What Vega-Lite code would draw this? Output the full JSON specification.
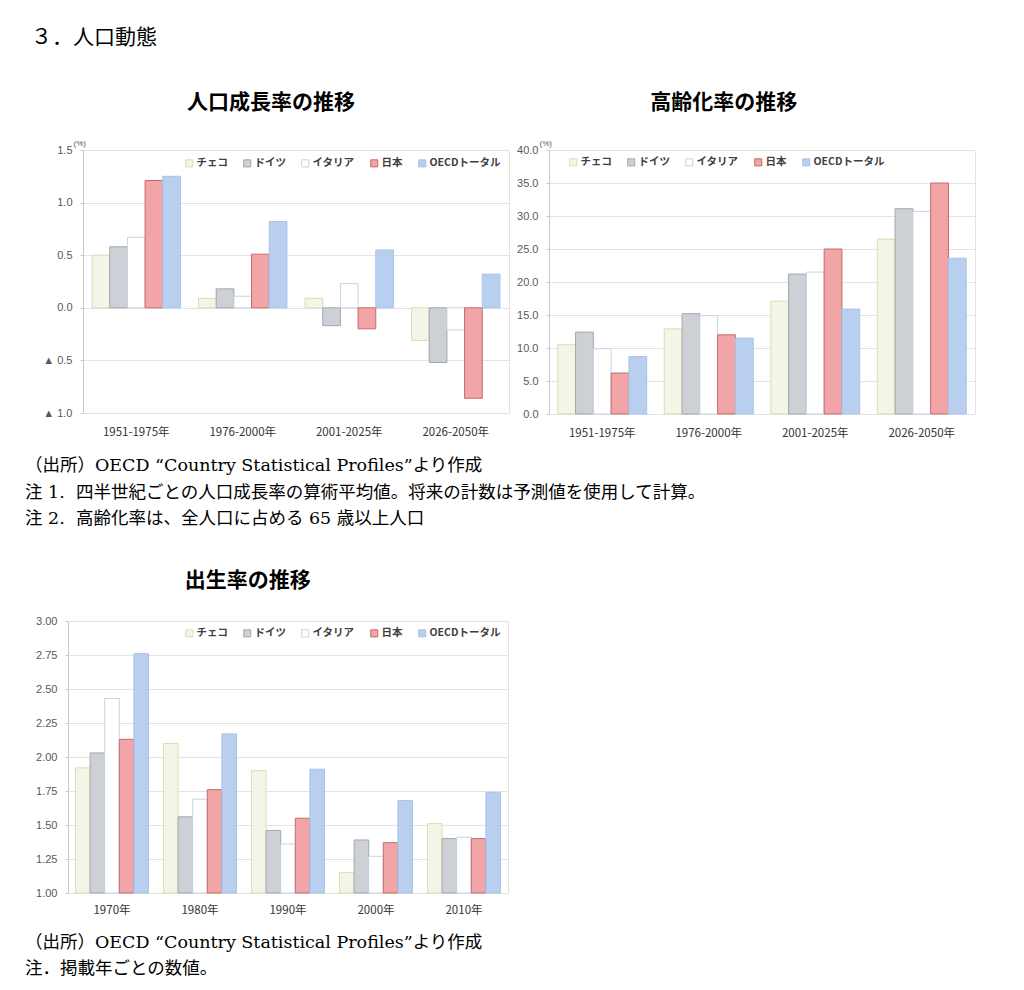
{
  "$schema": "https://vega.github.io/schema/vega-lite/v6.json",
  "padding": {"left": 21, "top": 26, "right": 5, "bottom": 5},
  "background": "white",
  "title": {"text": "３．人口動態", "anchor": "start", "frame": "bounds", "dx": 10, "fontSize": 21, "font": "Noto Sans CJK JP", "fontWeight": "normal", "color": "#000000", "offset": 44},
  "datasets": {
    "growth": [
      {"period": "1951-1975年", "country": "チェコ", "value": 0.50},
      {"period": "1951-1975年", "country": "ドイツ", "value": 0.58},
      {"period": "1951-1975年", "country": "イタリア", "value": 0.67},
      {"period": "1951-1975年", "country": "日本", "value": 1.21},
      {"period": "1951-1975年", "country": "OECDトータル", "value": 1.25},
      {"period": "1976-2000年", "country": "チェコ", "value": 0.09},
      {"period": "1976-2000年", "country": "ドイツ", "value": 0.18},
      {"period": "1976-2000年", "country": "イタリア", "value": 0.11},
      {"period": "1976-2000年", "country": "日本", "value": 0.51},
      {"period": "1976-2000年", "country": "OECDトータル", "value": 0.82},
      {"period": "2001-2025年", "country": "チェコ", "value": 0.09},
      {"period": "2001-2025年", "country": "ドイツ", "value": -0.17},
      {"period": "2001-2025年", "country": "イタリア", "value": 0.23},
      {"period": "2001-2025年", "country": "日本", "value": -0.20},
      {"period": "2001-2025年", "country": "OECDトータル", "value": 0.55},
      {"period": "2026-2050年", "country": "チェコ", "value": -0.31},
      {"period": "2026-2050年", "country": "ドイツ", "value": -0.52},
      {"period": "2026-2050年", "country": "イタリア", "value": -0.21},
      {"period": "2026-2050年", "country": "日本", "value": -0.86},
      {"period": "2026-2050年", "country": "OECDトータル", "value": 0.32}
    ],
    "aging": [
      {"period": "1951-1975年", "country": "チェコ", "value": 10.5},
      {"period": "1951-1975年", "country": "ドイツ", "value": 12.4},
      {"period": "1951-1975年", "country": "イタリア", "value": 9.9},
      {"period": "1951-1975年", "country": "日本", "value": 6.2},
      {"period": "1951-1975年", "country": "OECDトータル", "value": 8.7},
      {"period": "1976-2000年", "country": "チェコ", "value": 12.9},
      {"period": "1976-2000年", "country": "ドイツ", "value": 15.2},
      {"period": "1976-2000年", "country": "イタリア", "value": 14.9},
      {"period": "1976-2000年", "country": "日本", "value": 12.0},
      {"period": "1976-2000年", "country": "OECDトータル", "value": 11.5},
      {"period": "2001-2025年", "country": "チェコ", "value": 17.1},
      {"period": "2001-2025年", "country": "ドイツ", "value": 21.2},
      {"period": "2001-2025年", "country": "イタリア", "value": 21.5},
      {"period": "2001-2025年", "country": "日本", "value": 25.0},
      {"period": "2001-2025年", "country": "OECDトータル", "value": 15.9},
      {"period": "2026-2050年", "country": "チェコ", "value": 26.5},
      {"period": "2026-2050年", "country": "ドイツ", "value": 31.1},
      {"period": "2026-2050年", "country": "イタリア", "value": 30.7},
      {"period": "2026-2050年", "country": "日本", "value": 35.0},
      {"period": "2026-2050年", "country": "OECDトータル", "value": 23.6}
    ],
    "birth": [
      {"period": "1970年", "country": "チェコ", "value": 1.92},
      {"period": "1970年", "country": "ドイツ", "value": 2.03},
      {"period": "1970年", "country": "イタリア", "value": 2.43},
      {"period": "1970年", "country": "日本", "value": 2.13},
      {"period": "1970年", "country": "OECDトータル", "value": 2.76},
      {"period": "1980年", "country": "チェコ", "value": 2.10},
      {"period": "1980年", "country": "ドイツ", "value": 1.56},
      {"period": "1980年", "country": "イタリア", "value": 1.69},
      {"period": "1980年", "country": "日本", "value": 1.76},
      {"period": "1980年", "country": "OECDトータル", "value": 2.17},
      {"period": "1990年", "country": "チェコ", "value": 1.90},
      {"period": "1990年", "country": "ドイツ", "value": 1.46},
      {"period": "1990年", "country": "イタリア", "value": 1.36},
      {"period": "1990年", "country": "日本", "value": 1.55},
      {"period": "1990年", "country": "OECDトータル", "value": 1.91},
      {"period": "2000年", "country": "チェコ", "value": 1.15},
      {"period": "2000年", "country": "ドイツ", "value": 1.39},
      {"period": "2000年", "country": "イタリア", "value": 1.27},
      {"period": "2000年", "country": "日本", "value": 1.37},
      {"period": "2000年", "country": "OECDトータル", "value": 1.68},
      {"period": "2010年", "country": "チェコ", "value": 1.51},
      {"period": "2010年", "country": "ドイツ", "value": 1.40},
      {"period": "2010年", "country": "イタリア", "value": 1.41},
      {"period": "2010年", "country": "日本", "value": 1.40},
      {"period": "2010年", "country": "OECDトータル", "value": 1.74}
    ],
    "blank": [{"k": 0}]
  },
  "spacing": 12,
  "resolve": {"scale": {"fill": "independent", "stroke": "independent", "xOffset": "independent"}, "legend": {"fill": "independent", "stroke": "independent"}},
  "vconcat": [
    {
      "spacing": 6,
      "resolve": {"scale": {"fill": "independent", "stroke": "independent", "xOffset": "independent"}, "legend": {"fill": "independent", "stroke": "independent"}},
      "hconcat": [
        {
          "width": 15, "height": 1,
          "view": {"stroke": null},
          "data": {"name": "blank"},
          "mark": {"type": "rect", "opacity": 0},
          "encoding": {}
        },
        {
          "width": 426, "height": 263,
          "view": {"stroke": "#e2e2e2"},
          "title": {"text": "人口成長率の推移", "frame": "bounds", "fontSize": 21, "font": "Noto Sans CJK JP", "fontWeight": "bold", "color": "#000000", "offset": 26, "dx": -5},
          "data": {"name": "growth"},
          "mark": {"type": "bar", "strokeWidth": 1},
          "encoding": {
            "x": {"field": "period", "type": "nominal", "sort": null, "title": null,
                  "scale": {"paddingInner": 0.17, "paddingOuter": 0.085},
                  "axis": {"labelAngle": 0, "labelPadding": 13}},
            "xOffset": {"field": "country", "type": "nominal", "sort": ["チェコ", "ドイツ", "イタリア", "日本", "OECDトータル"], "scale": {"paddingInner": 0, "paddingOuter": 0}},
            "y": {"field": "value", "type": "quantitative", "title": "(%)",
                  "scale": {"domain": [-1, 1.5], "nice": false},
                  "axis": {"values": [-1, -0.5, 0, 0.5, 1, 1.5], "labelExpr": "datum.value < 0 ? '▲ ' + format(-datum.value, '.1f') : format(datum.value, '.1f')"}},
            "fill": {"field": "country", "type": "nominal",
                     "scale": {"domain": ["チェコ", "ドイツ", "イタリア", "日本", "OECDトータル"], "range": ["#f3f6e6", "#cdd0d5", "#ffffff", "#f2a5a6", "#b9cff0"]},
                     "legend": {"orient": "top-right", "offset": 8}},
            "stroke": {"field": "country", "type": "nominal",
                       "scale": {"domain": ["チェコ", "ドイツ", "イタリア", "日本", "OECDトータル"], "range": ["#d6dfb4", "#a3a7ad", "#c5d3e8", "#c9686a", "#a9c3ea"]},
                       "legend": {"orient": "top-right", "offset": 8}}
          }
        },
        {
          "width": 426, "height": 264,
          "view": {"stroke": "#e2e2e2"},
          "title": {"text": "高齢化率の推移", "frame": "bounds", "fontSize": 21, "font": "Noto Sans CJK JP", "fontWeight": "bold", "color": "#000000", "offset": 26, "dx": -22},
          "data": {"name": "aging"},
          "mark": {"type": "bar", "strokeWidth": 1},
          "encoding": {
            "x": {"field": "period", "type": "nominal", "sort": null, "title": null,
                  "scale": {"paddingInner": 0.165, "paddingOuter": 0.0825},
                  "axis": {"labelAngle": 0, "labelPadding": 13}},
            "xOffset": {"field": "country", "type": "nominal", "sort": ["チェコ", "ドイツ", "イタリア", "日本", "OECDトータル"], "scale": {"paddingInner": 0, "paddingOuter": 0}},
            "y": {"field": "value", "type": "quantitative", "title": "(%)",
                  "scale": {"domain": [0, 40], "nice": false},
                  "axis": {"values": [0, 5, 10, 15, 20, 25, 30, 35, 40], "format": ".1f"}},
            "fill": {"field": "country", "type": "nominal",
                     "scale": {"domain": ["チェコ", "ドイツ", "イタリア", "日本", "OECDトータル"], "range": ["#f3f6e6", "#cdd0d5", "#ffffff", "#f2a5a6", "#b9cff0"]},
                     "legend": {"orient": "none", "legendX": 19, "legendY": 7}},
            "stroke": {"field": "country", "type": "nominal",
                       "scale": {"domain": ["チェコ", "ドイツ", "イタリア", "日本", "OECDトータル"], "range": ["#d6dfb4", "#a3a7ad", "#c5d3e8", "#c9686a", "#a9c3ea"]},
                       "legend": {"orient": "none", "legendX": 19, "legendY": 7}}
          }
        }
      ]
    },
    {
      "width": 1, "height": 106,
      "view": {"stroke": null},
      "data": {"values": [
        {"i": 0, "t": "（出所）OECD “Country Statistical Profiles”より作成"},
        {"i": 1, "t": "注 1.\u00a0\u00a0四半世紀ごとの人口成長率の算術平均値。将来の計数は予測値を使用して計算。"},
        {"i": 2, "t": "注 2.\u00a0\u00a0高齢化率は、全人口に占める 65 歳以上人口"}
      ]},
      "mark": {"type": "text", "align": "left", "baseline": "middle", "dx": 3.5, "font": "DejaVu Serif, Noto Sans CJK JP", "fontSize": 17.5, "color": "#000000"},
      "encoding": {
        "y": {"field": "i", "type": "ordinal", "axis": null, "scale": {"padding": 1, "align": 0.29}},
        "text": {"field": "t"}
      }
    },
    {
      "spacing": 6,
      "resolve": {"scale": {"fill": "independent", "stroke": "independent", "xOffset": "independent"}, "legend": {"fill": "independent", "stroke": "independent"}},
      "hconcat": [
        {
          "width": 8, "height": 1,
          "view": {"stroke": null},
          "data": {"name": "blank"},
          "mark": {"type": "rect", "opacity": 0},
          "encoding": {}
        },
        {
          "width": 440, "height": 272,
          "view": {"stroke": "#e2e2e2"},
          "title": {"text": "出生率の推移", "frame": "bounds", "fontSize": 21, "font": "Noto Sans CJK JP", "fontWeight": "bold", "color": "#000000", "offset": 24, "dx": -24},
          "data": {"name": "birth"},
          "mark": {"type": "bar", "strokeWidth": 1},
          "encoding": {
            "x": {"field": "period", "type": "nominal", "sort": null, "title": null,
                  "scale": {"paddingInner": 0.17, "paddingOuter": 0.085},
                  "axis": {"labelAngle": 0, "labelPadding": 11}},
            "xOffset": {"field": "country", "type": "nominal", "sort": ["チェコ", "ドイツ", "イタリア", "日本", "OECDトータル"], "scale": {"paddingInner": 0, "paddingOuter": 0}},
            "y": {"field": "value", "type": "quantitative", "title": null,
                  "scale": {"domain": [1, 3], "nice": false, "zero": false},
                  "axis": {"values": [1, 1.25, 1.5, 1.75, 2, 2.25, 2.5, 2.75, 3], "format": ".2f"}},
            "y2": {"datum": 1},
            "fill": {"field": "country", "type": "nominal",
                     "scale": {"domain": ["チェコ", "ドイツ", "イタリア", "日本", "OECDトータル"], "range": ["#f3f6e6", "#cdd0d5", "#ffffff", "#f2a5a6", "#b9cff0"]},
                     "legend": {"orient": "top-right", "offset": 7}},
            "stroke": {"field": "country", "type": "nominal",
                       "scale": {"domain": ["チェコ", "ドイツ", "イタリア", "日本", "OECDトータル"], "range": ["#d6dfb4", "#a3a7ad", "#c5d3e8", "#c9686a", "#a9c3ea"]},
                       "legend": {"orient": "top-right", "offset": 7}}
          }
        }
      ]
    },
    {
      "width": 1, "height": 78,
      "view": {"stroke": null},
      "data": {"values": [
        {"i": 0, "t": "（出所）OECD “Country Statistical Profiles”より作成"},
        {"i": 1, "t": "注．掲載年ごとの数値。"}
      ]},
      "mark": {"type": "text", "align": "left", "baseline": "middle", "dx": 3.5, "font": "DejaVu Serif, Noto Sans CJK JP", "fontSize": 17.5, "color": "#000000"},
      "encoding": {
        "y": {"field": "i", "type": "ordinal", "axis": null, "scale": {"padding": 1, "align": 0.28}},
        "text": {"field": "t"}
      }
    }
  ],
  "config": {
    "view": {"stroke": null},
    "axisY": {"labelFont": "Liberation Sans, DejaVu Sans", "labelFontSize": 11, "labelColor": "#595959", "gridColor": "#e3e3e3", "domainColor": "#c8c8c8", "tickColor": "#c8c8c8", "tickSize": 3, "labelPadding": 8,
              "titleFont": "Liberation Sans", "titleFontSize": 8, "titleFontWeight": "normal", "titleColor": "#595959", "titleAngle": 0, "titleAlign": "left", "titleBaseline": "bottom", "titleX": -10, "titleY": -3},
    "axisX": {"labelFont": "Noto Sans CJK JP", "labelFontSize": 11.5, "labelColor": "#333333", "ticks": false, "domain": false, "grid": false},
    "legend": {"direction": "horizontal", "title": null, "symbolType": "square", "symbolSize": 50, "symbolStrokeWidth": 1,
               "labelFont": "Noto Sans CJK JP", "labelFontSize": 10.5, "labelFontWeight": "bold", "labelColor": "#404040", "columnPadding": 13, "labelOffset": 2}
  }
}
